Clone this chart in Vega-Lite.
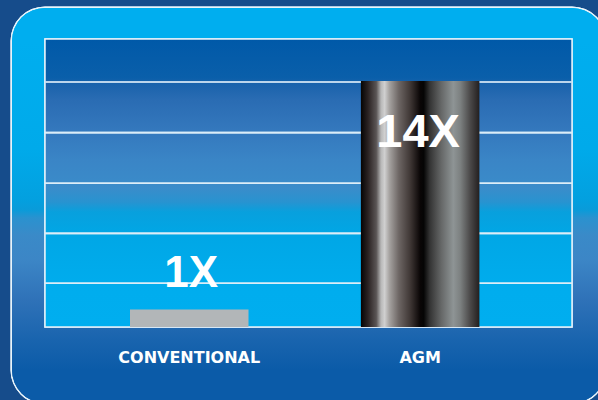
{
  "$schema": "https://vega.github.io/schema/vega-lite/v6.json",
  "width": 527,
  "height": 288,
  "padding": {"left": 45, "top": 39, "right": 26, "bottom": 73},
  "autosize": {"type": "none"},
  "background": "#164c8b",
  "config": {"view": {"stroke": null}},
  "data": {"values": [
    {"type": "CONVENTIONAL", "value": 1, "label": "1X"},
    {"type": "AGM", "value": 14, "label": "14X"}
  ]},
  "layer": [
    {
      "mark": {"type": "rect", "fill": "#e8f4fb", "stroke": "#e8f4fb", "strokeWidth": 69, "strokeJoin": "round"},
      "encoding": {
        "y": {"datum": 16.28, "type": "quantitative", "scale": {"domain": [0, 16.39], "nice": false, "zero": false}, "axis": null},
        "y2": {"datum": -2.45}
      }
    },
    {
      "mark": {
        "type": "rect",
        "strokeWidth": 66,
        "strokeJoin": "round",
        "fill": {"gradient": "linear", "x1": 0, "y1": 0, "x2": 0, "y2": 1, "stops": [
          {"offset": 0, "color": "#00aeef"},
          {"offset": 0.33, "color": "#00aaea"},
          {"offset": 0.483, "color": "#03a0df"},
          {"offset": 0.514, "color": "#0a9bd9"},
          {"offset": 0.538, "color": "#2a92cf"},
          {"offset": 0.59, "color": "#3a8ac8"},
          {"offset": 0.666, "color": "#3c86c6"},
          {"offset": 0.787, "color": "#2f72b8"},
          {"offset": 0.909, "color": "#1964ae"},
          {"offset": 1, "color": "#0b5ba8"}
        ]},
        "stroke": {"gradient": "linear", "x1": 0, "y1": 0, "x2": 0, "y2": 1, "stops": [
          {"offset": 0, "color": "#00aeef"},
          {"offset": 0.33, "color": "#00aaea"},
          {"offset": 0.483, "color": "#03a0df"},
          {"offset": 0.514, "color": "#0a9bd9"},
          {"offset": 0.538, "color": "#2a92cf"},
          {"offset": 0.59, "color": "#3a8ac8"},
          {"offset": 0.666, "color": "#3c86c6"},
          {"offset": 0.787, "color": "#2f72b8"},
          {"offset": 0.909, "color": "#1964ae"},
          {"offset": 1, "color": "#0b5ba8"}
        ]}
      },
      "encoding": {
        "y": {"datum": 16.28, "type": "quantitative", "scale": {"domain": [0, 16.39], "nice": false, "zero": false}, "axis": null},
        "y2": {"datum": -2.45}
      }
    },
    {
      "mark": {
        "type": "rect",
        "stroke": "#e3f1fa",
        "strokeWidth": 1.5,
        "fill": {"gradient": "linear", "x1": 0, "y1": 0, "x2": 0, "y2": 1, "stops": [
          {"offset": 0, "color": "#0059a8"},
          {"offset": 0.135, "color": "#0a5faa"},
          {"offset": 0.156, "color": "#1a63ac"},
          {"offset": 0.212, "color": "#2a6cb3"},
          {"offset": 0.316, "color": "#3478bd"},
          {"offset": 0.42, "color": "#3a85c6"},
          {"offset": 0.517, "color": "#3a8cca"},
          {"offset": 0.566, "color": "#2893d0"},
          {"offset": 0.6, "color": "#08a0dd"},
          {"offset": 0.68, "color": "#00a7e6"},
          {"offset": 0.875, "color": "#00adee"},
          {"offset": 1, "color": "#00aeef"}
        ]}
      },
      "encoding": {
        "y": {"datum": 0, "type": "quantitative", "scale": {"domain": [0, 16.39], "nice": false, "zero": false}, "axis": null},
        "y2": {"datum": 16.39}
      }
    },
    {"mark": {"type": "rule", "color": "#dcedf8", "strokeWidth": 1.6},
     "encoding": {"y": {"datum": 2.49, "type": "quantitative", "scale": {"domain": [0, 16.39], "nice": false, "zero": false}, "axis": null}}},
    {"mark": {"type": "rule", "color": "#dcedf8", "strokeWidth": 1.6},
     "encoding": {"y": {"datum": 5.33, "type": "quantitative", "scale": {"domain": [0, 16.39], "nice": false, "zero": false}, "axis": null}}},
    {"mark": {"type": "rule", "color": "#dcedf8", "strokeWidth": 1.6},
     "encoding": {"y": {"datum": 8.18, "type": "quantitative", "scale": {"domain": [0, 16.39], "nice": false, "zero": false}, "axis": null}}},
    {"mark": {"type": "rule", "color": "#dcedf8", "strokeWidth": 1.6},
     "encoding": {"y": {"datum": 11.06, "type": "quantitative", "scale": {"domain": [0, 16.39], "nice": false, "zero": false}, "axis": null}}},
    {"mark": {"type": "rule", "color": "#c9def0", "strokeWidth": 1.6},
     "encoding": {"y": {"datum": 13.94, "type": "quantitative", "scale": {"domain": [0, 16.39], "nice": false, "zero": false}, "axis": null}}},
    {
      "transform": [{"filter": "datum.type === 'CONVENTIONAL'"}],
      "mark": {"type": "bar", "color": "#b2b6b8"},
      "encoding": {
        "x": {"field": "type", "type": "nominal", "sort": ["CONVENTIONAL", "AGM"],
              "scale": {"type": "band", "domain": ["CONVENTIONAL", "AGM"], "paddingInner": 0.4868, "paddingOuter": 0.3846, "align": 0.4786},
              "axis": {"title": null, "ticks": false, "tickSize": 0, "domain": false, "zindex": 1, "labelAngle": 0, "labelColor": "#ffffff", "labelFont": "DejaVu Sans", "labelFontWeight": "bold", "labelFontSize": 16, "labelPadding": 22.5, "grid": false}},
        "y": {"field": "value", "type": "quantitative", "scale": {"domain": [0, 16.39], "nice": false, "zero": false}, "axis": null}
      }
    },
    {
      "transform": [{"filter": "datum.type === 'AGM'"}],
      "mark": {
        "type": "bar",
        "color": {"gradient": "linear", "x1": 0, "y1": 0, "x2": 1, "y2": 0, "stops": [
          {"offset": 0, "color": "#050404"},
          {"offset": 0.06, "color": "#2a2222"},
          {"offset": 0.13, "color": "#5a5555"},
          {"offset": 0.17, "color": "#b8b8b8"},
          {"offset": 0.2, "color": "#d0d0d0"},
          {"offset": 0.24, "color": "#a6a3a1"},
          {"offset": 0.32, "color": "#6d6664"},
          {"offset": 0.42, "color": "#3d3533"},
          {"offset": 0.5, "color": "#0a0606"},
          {"offset": 0.53, "color": "#050505"},
          {"offset": 0.58, "color": "#333333"},
          {"offset": 0.68, "color": "#666868"},
          {"offset": 0.78, "color": "#8e9495"},
          {"offset": 0.84, "color": "#7c8080"},
          {"offset": 0.92, "color": "#4c4a4a"},
          {"offset": 1, "color": "#231f1f"}
        ]}
      },
      "encoding": {
        "x": {"field": "type", "type": "nominal", "sort": ["CONVENTIONAL", "AGM"]},
        "y": {"field": "value", "type": "quantitative", "scale": {"domain": [0, 16.39], "nice": false, "zero": false}, "axis": null}
      }
    },
    {
      "transform": [{"filter": "datum.type === 'CONVENTIONAL'"}],
      "mark": {"type": "text", "font": "Liberation Sans", "fontWeight": "bold", "fontSize": 44, "color": "#ffffff", "baseline": "alphabetic", "dy": -22, "dx": 2},
      "encoding": {
        "x": {"field": "type", "type": "nominal", "sort": ["CONVENTIONAL", "AGM"]},
        "y": {"field": "value", "type": "quantitative", "scale": {"domain": [0, 16.39], "nice": false, "zero": false}, "axis": null},
        "text": {"field": "label"}
      }
    },
    {
      "transform": [{"filter": "datum.type === 'AGM'"}],
      "mark": {"type": "text", "font": "Liberation Sans", "fontWeight": "bold", "fontSize": 47, "color": "#ffffff", "baseline": "alphabetic", "dy": 66, "dx": -2},
      "encoding": {
        "x": {"field": "type", "type": "nominal", "sort": ["CONVENTIONAL", "AGM"]},
        "y": {"field": "value", "type": "quantitative", "scale": {"domain": [0, 16.39], "nice": false, "zero": false}, "axis": null},
        "text": {"field": "label"}
      }
    }
  ]
}
